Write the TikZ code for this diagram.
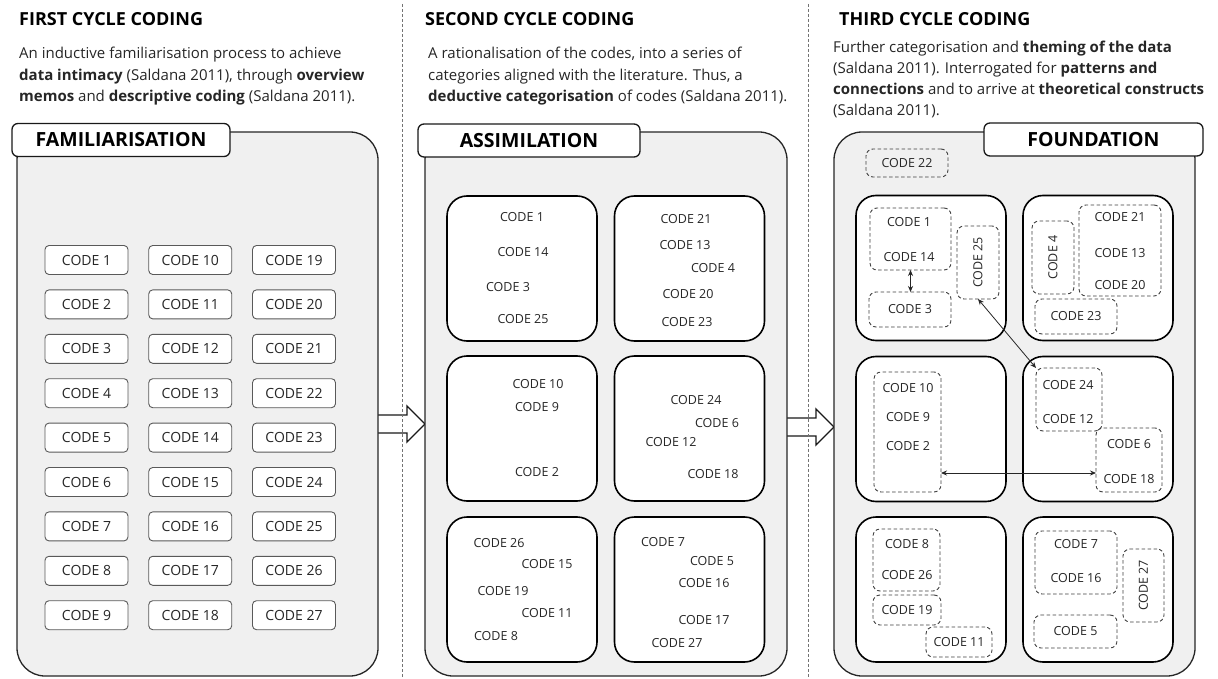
\documentclass[tikz,border=0pt]{standalone}
\usepackage{fontspec}
\setmainfont{Open Sans}
\usetikzlibrary{arrows.meta}
\begin{document}
\begin{tikzpicture}[x=1pt,y=-1pt,
 panel/.style={draw=black!85, line width=1.3pt, fill=black!6, rounded corners=28pt, inner sep=0pt, outer sep=0pt, minimum height=544pt},
 tag/.style={draw=black!90, line width=1.3pt, fill=white, rounded corners=6pt, inner sep=0pt, outer sep=0pt, minimum height=33pt, font=\bfseries\fontsize{19.5}{22}\selectfont},
 group/.style={draw=black, line width=1.6pt, fill=white, rounded corners=20pt, minimum width=150pt, minimum height=145pt, inner sep=0pt, outer sep=0pt},
 codebox/.style={draw=black!65, line width=0.9pt, fill=white, rounded corners=4pt, minimum width=83pt, minimum height=29pt, inner sep=0pt, font=\fontsize{14}{16}\selectfont, text=black!85},
 lbl/.style={inner sep=0pt, font=\fontsize{12.5}{14}\selectfont, text=black!85},
 dbox/.style={draw=black!75, dash pattern=on 3.5pt off 2.5pt, line width=0.9pt, rounded corners=7pt, inner sep=0pt, outer sep=0pt},
 hdr/.style={anchor=base west, inner sep=0pt, font=\bfseries\fontsize{18}{21}\selectfont},
 body/.style={anchor=base west, inner sep=0pt, font=\fontsize{15}{18}\selectfont, text=black!85},
 blk/.style={draw=black!90, line width=1.3pt, fill=white, line join=miter},
 link/.style={line width=0.8pt, draw=black!85, {Stealth[length=6pt,width=5pt]}-{Stealth[length=6pt,width=5pt]}},
 sep/.style={draw=black!55, dash pattern=on 3pt off 2pt, line width=0.7pt}
]
\useasboundingbox (0,0) rectangle (1218,679);

% ---------- headers ----------
\node[hdr] (h1) at (19,26) {FIRST CYCLE CODING};
\node[body] (h1a) at (19,58.5) {An inductive familiarisation process to achieve};
\node[body] (h1b) at (19,80.5) {\textbf{data intimacy} (Saldana 2011), through \textbf{overview}};
\node[body] (h1c) at (19,102) {\textbf{memos} and \textbf{descriptive coding} (Saldana 2011).};

\node[hdr] (h2) at (425,26) {SECOND CYCLE CODING};
\node[body] (h2a) at (428,58.5) {A rationalisation of the codes, into a series of};
\node[body] (h2b) at (428,80.5) {categories aligned with the literature. Thus, a};
\node[body] (h2c) at (428,102) {\textbf{deductive categorisation} of codes (Saldana 2011).};

\node[hdr] (h3) at (839,26) {THIRD CYCLE CODING};
\node[body] (h3a) at (833,53) {Further categorisation and \textbf{theming of the data}};
\node[body] (h3b) at (833,74) {(Saldana 2011). Interrogated for \textbf{patterns and}};
\node[body] (h3c) at (833,95) {\textbf{connections} and to arrive at \textbf{theoretical constructs}};
\node[body] (h3d) at (833,116) {(Saldana 2011).};

% ---------- block arrows ----------
\filldraw[blk] (378,415) -- (407,415) -- (407,406) -- (425,424) -- (407,442) -- (407,433) -- (378,433);
\filldraw[blk] (787,418) -- (816,418) -- (816,409) -- (834,427) -- (816,445) -- (816,436) -- (787,436);

% ---------- separators ----------
\draw[sep] (402,4) -- (402,679);
\draw[sep] (808,4) -- (808,679);

% ---------- panels ----------
\node[panel, minimum width=361pt] (p1) at (197.5,404) {};
\node[panel, minimum width=362pt] (p2) at (606,404) {};
\node[panel, minimum width=361pt] (p3) at (1014.5,404) {};

\node[tag, minimum width=218pt] (t1) at (121,140) {FAMILIARISATION};
\node[tag, minimum width=222pt] (t2) at (529,140.5) {ASSIMILATION};
\node[tag, minimum width=219pt] (t3) at (1093.5,139.5) {FOUNDATION};

% ---------- panel 1 codes ----------
\foreach \c/\s in {0/1,1/10,2/19}{
  \foreach \r in {0,...,8}{
    \pgfmathtruncatemacro\n{\s+\r}
    \node[codebox] (a\n) at ({86.5+103.75*\c},{260+44.4*\r}) {CODE \n};
  }
}

% ---------- panel 2 ----------
\node[group] (s11) at (522,268.5) {};
\node[group] (s12) at (689.5,268.5) {};
\node[group] (s21) at (522,428.5) {};
\node[group] (s22) at (689.5,428.5) {};
\node[group] (s31) at (522,589.5) {};
\node[group] (s32) at (689.5,589.5) {};

\foreach \t/\x/\y in {1/522/217, 14/523/252, 3/508/287, 25/523/319,
  21/686/219, 13/685/245, 4/713/268, 20/688/294, 23/687/322,
  10/538/384, 9/537/407, 2/537/472,
  24/696/400, 6/717/423, 12/671/442, 18/713/474,
  26/499/543, 15/547/564, 19/503/591, 11/547/613, 8/496/636,
  7/663/542, 5/712/561, 16/704/583, 17/704/620, 27/677/643}{
  \node[lbl] (b\t) at (\x,\y) {CODE \t};
}

% ---------- panel 3 ----------
\node[group] (u11) at (931,268) {};
\node[group] (u12) at (1098,268) {};
\node[group] (u21) at (931,429) {};
\node[group] (u22) at (1098,429) {};
\node[group] (u31) at (931,589.5) {};
\node[group] (u32) at (1098,589.5) {};

\node[dbox, lbl, minimum width=82pt, minimum height=28pt] (d22) at (907,163) {CODE 22};

\node[dbox, minimum width=81pt, minimum height=62pt] (d114) at (910.5,239) {};
\node[dbox, lbl, minimum width=82pt, minimum height=35pt] (d3) at (910,309.5) {CODE 3};
\node[dbox, minimum width=42pt, minimum height=73pt] (d25) at (978,262.5) {};
\node[lbl, rotate=90] (f25) at (d25) {CODE 25};

\node[dbox, minimum width=42pt, minimum height=73pt] (d4) at (1053,257.5) {};
\node[lbl, rotate=90] (f4) at (d4) {CODE 4};
\node[dbox, minimum width=82pt, minimum height=91pt] (d211320) at (1120,250.5) {};
\node[dbox, lbl, minimum width=82pt, minimum height=35pt] (d23) at (1076,316.5) {CODE 23};

\node[dbox, minimum width=67pt, minimum height=120pt] (d1092) at (907.5,432) {};
\node[dbox, minimum width=66pt, minimum height=63pt] (d2412) at (1069,399.5) {};
\node[dbox, minimum width=66pt, minimum height=64pt] (d618) at (1129,460) {};

\node[dbox, minimum width=67pt, minimum height=62pt] (d826) at (906.5,560) {};
\node[dbox, lbl, minimum width=68pt, minimum height=30pt] (d19) at (907,610) {CODE 19};
\node[dbox, lbl, minimum width=66pt, minimum height=30pt] (d11) at (959,642) {CODE 11};

\node[dbox, minimum width=82pt, minimum height=63pt] (d716) at (1076,562.5) {};
\node[dbox, minimum width=41pt, minimum height=73pt] (d27) at (1143.5,585.5) {};
\node[lbl, rotate=90] (f27) at (d27) {CODE 27};
\node[dbox, lbl, minimum width=83pt, minimum height=33pt] (d5) at (1075.5,631.5) {CODE 5};

\foreach \t/\x/\y in {1/909/222, 14/909/257, 21/1120/217, 13/1120/253, 20/1120/285,
  10/908/388, 9/908/417, 2/908/446, 24/1068/385, 12/1068/419, 6/1129/444, 18/1129/479,
  8/907/544, 26/907/575, 7/1076/544, 16/1076/578}{
  \node[lbl] (f\t) at (\x,\y) {CODE \t};
}

% ---------- links ----------
\draw[link] (d114.south) -- (d114.south |- d3.north);
\draw[link] (d25.south) -- (d2412.north west);
\coordinate (hy) at (0,473);
\draw[link] (d1092.east |- hy) -- (d618.west |- hy);
\end{tikzpicture}
\end{document}
